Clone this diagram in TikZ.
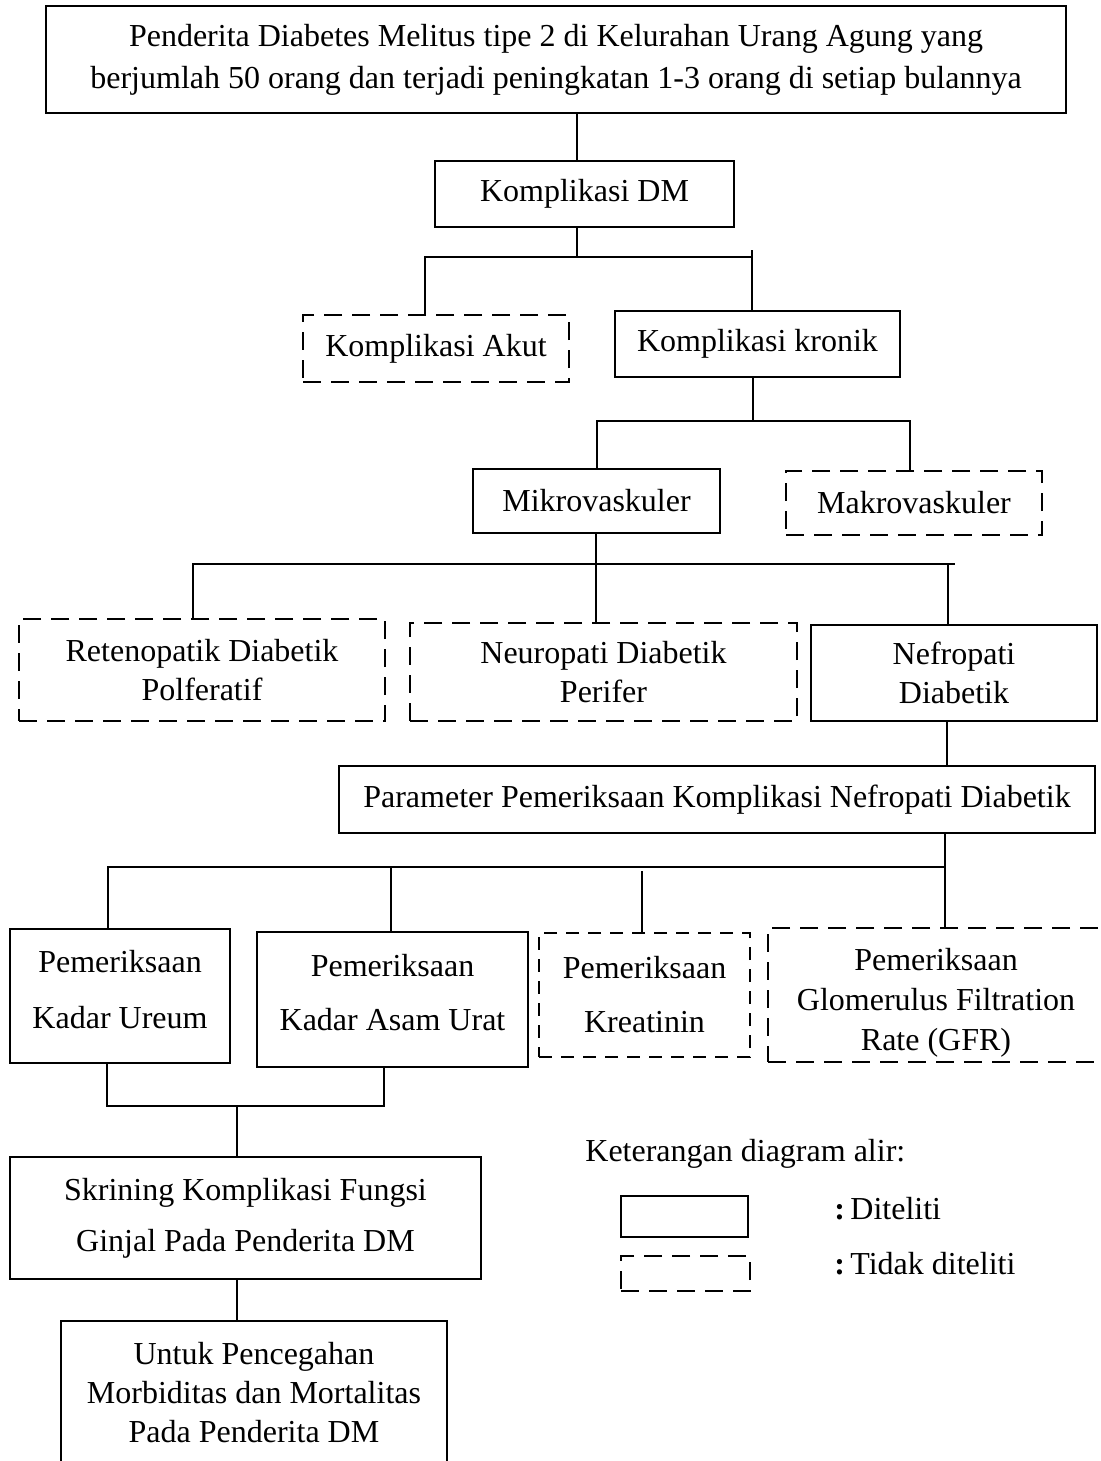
\documentclass[tikz,border=0pt]{standalone}
\usepackage{fontspec}
\setmainfont{Liberation Serif}

\begin{document}
\begin{tikzpicture}[x=0.5pt,y=-0.5pt,
  kotak/.style={draw,line width=1.1pt,inner sep=0pt,outer sep=0pt,
    align=center,font=\fontsize{16}{19.5}\selectfont},
  putus/.style={kotak,dash pattern=on 9pt off 5pt},
  putustipis/.style={kotak,line width=0.6pt,dash pattern=on 6.5pt off 4.5pt},
  teks/.style={inner sep=0pt,anchor=west,font=\fontsize{16}{19.5}\selectfont},
  garis/.style={line width=1pt,line cap=rect}]
\useasboundingbox (0,0) rectangle (1101,1461);
% kotak utama
\node[kotak,minimum width=510pt,minimum height=53.5pt] (pend) at (556,59.5)
  {Penderita Diabetes Melitus tipe 2 di Kelurahan Urang Agung yang\\[1.5pt]
   berjumlah 50 orang dan terjadi peningkatan 1-3 orang di setiap bulannya};
\node[kotak,minimum width=149.5pt,minimum height=33pt] (kdm) at (584.5,194) {Komplikasi DM};
\node[putus,minimum width=133pt,minimum height=33.5pt] (akut) at (436,348.5) {Komplikasi Akut};
\node[kotak,minimum width=142.5pt,minimum height=33pt] (kronik) at (757.5,344) {Komplikasi kronik};
\node[kotak,minimum width=123.5pt,minimum height=32pt] (mikro) at (596.5,501) {Mikrovaskuler};
\node[putus,minimum width=128pt,minimum height=32pt] (makro) at (914,503) {Makrovaskuler};
\node[putus,minimum width=183pt,minimum height=51pt] (reten) at (202,670)
  {Retenopatik Diabetik\\Polferatif};
\node[putus,minimum width=193.5pt,minimum height=49pt] (neuro) at (603.5,672)
  {Neuropati Diabetik\\Perifer};
\node[kotak,minimum width=143pt,minimum height=48pt] (nefro) at (954,673)
  {Nefropati\\Diabetik};
\node[kotak,minimum width=378pt,minimum height=33.5pt] (param) at (717,799.5)
  {Parameter Pemeriksaan Komplikasi Nefropati Diabetik};
% parameter pemeriksaan
\node[kotak,minimum width=110pt,minimum height=67pt] (ureum) at (120,996)
  {Pemeriksaan\\[8.5pt]Kadar Ureum\rule[-7pt]{0pt}{7pt}};
\node[kotak,minimum width=135.5pt,minimum height=67.5pt] (asam) at (392.5,999.5)
  {Pemeriksaan\\[7.5pt]Kadar Asam Urat\rule[-7pt]{0pt}{7pt}};
\node[putustipis,minimum width=105.5pt,minimum height=62pt] (kreat) at (644.5,995)
  {Pemeriksaan\\[7.5pt]Kreatinin};
\node[putus,minimum width=168pt,minimum height=67pt] (gfr) at (936,995)
  {\rule{0pt}{19pt}Pemeriksaan\\[0.5pt]Glomerulus Filtration\\[0.5pt]Rate (GFR)};
\node[kotak,minimum width=235.5pt,minimum height=61pt] (skrin) at (245.5,1218)
  {Skrining Komplikasi Fungsi\\[6pt]Ginjal Pada Penderita DM};
\node[kotak,minimum width=193pt,minimum height=71.5pt] (untuk) at (254,1392.5)
  {Untuk Pencegahan\\Morbiditas dan Mortalitas\\Pada Penderita DM};
% keterangan
\node[teks] (ket) at (585,1154) {Keterangan diagram alir:};
\node[kotak,minimum width=63.5pt,minimum height=20.5pt] (legsolid) at (684.5,1216.5) {};
\node[putus,minimum width=64.5pt,minimum height=17.5pt] (legdash) at (685.5,1273.5) {};
\node[teks] (ketsolid) at (834,1209) {\textbf{:}\,Diteliti};
\node[teks] (ketdash) at (834,1264) {\textbf{:}\,Tidak diteliti};
% garis penghubung
\coordinate (ja) at (577,257);
\coordinate (jal) at (425,257);
\coordinate (jar) at (752,257);
\draw[garis] (pend.south -| ja) -- (kdm.north -| ja);
\draw[garis] (kdm.south -| ja) -- (ja);
\draw[garis] (akut.north -| jal) -- (jal) -- (jar);
\draw[garis] ([yshift=3pt]jar) -- (kronik.north -| jar);
\coordinate (jb) at (753,421);
\coordinate (jbl) at (597,421);
\coordinate (jbr) at (910,421);
\draw[garis] (kronik.south -| jb) -- (jb);
\draw[garis] (mikro.north -| jbl) -- (jbl) -- (jbr) -- (makro.north -| jbr);
\coordinate (jc) at (596,564);
\coordinate (jcl) at (193,564);
\coordinate (jcr) at (954,564);
\coordinate (jcn) at (948,564);
\draw[garis] (mikro.south -| jc) -- (neuro.north -| jc);
\draw[garis] (reten.north -| jcl) -- (jcl) -- (jcr);
\draw[garis] (jcn) -- (nefro.north -| jcn);
\coordinate (jn) at (947,744);
\draw[garis] (nefro.south -| jn) -- (param.north -| jn);
\coordinate (jd) at (945,867);
\coordinate (jdl) at (108,867);
\coordinate (jd2) at (391,867);
\coordinate (jd3) at (642,867);
\draw[garis] (param.south -| jd) -- (gfr.north -| jd);
\draw[garis] (ureum.north -| jdl) -- (jdl) -- (jd);
\draw[garis] (jd2) -- (asam.north -| jd2);
\draw[garis] ([yshift=-2.5pt]jd3) -- (kreat.north -| jd3);
\coordinate (je) at (237,1106);
\coordinate (jel) at (107,1106);
\coordinate (jer) at (384,1106);
\draw[garis] (ureum.south -| jel) -- (jel) -- (jer) -- (asam.south -| jer);
\draw[garis] (je) -- (skrin.north -| je);
\draw[garis] (skrin.south -| je) -- (untuk.north -| je);
\end{tikzpicture}
\end{document}
